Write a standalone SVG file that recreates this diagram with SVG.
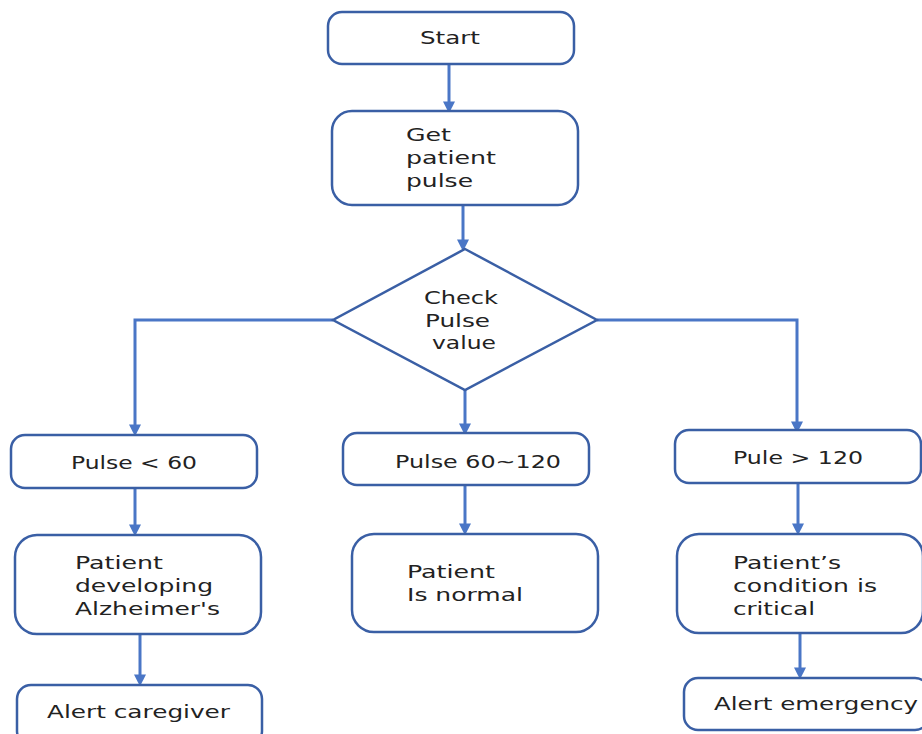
<svg xmlns="http://www.w3.org/2000/svg" width="922" height="734" viewBox="0 0 922 734">
<style>
.box{fill:#fff;stroke:#3a5fa5;stroke-width:2.5}
.t{font-family:"DejaVu Sans",Verdana,sans-serif;font-size:17px;fill:#222}
.c{fill:none;stroke:#4a76c6;stroke-width:3}
</style>
<defs>
<marker id="ah" markerWidth="4" markerHeight="4" refX="2.2" refY="2" orient="auto" markerUnits="strokeWidth">
<path d="M0,0 L4,2 L0,4 z" fill="#4a76c6"/>
</marker>
</defs>
<rect width="922" height="734" fill="#fff"/>
<g id="connectors">
<path class="c" d="M449,64 V108" marker-end="url(#ah)"/>
<path class="c" d="M463,205 V246" marker-end="url(#ah)"/>
<path class="c" d="M333,320 H135 V431" marker-end="url(#ah)"/>
<path class="c" d="M597,320 H797 V428" marker-end="url(#ah)"/>
<path class="c" d="M465,390 V430" marker-end="url(#ah)"/>
<path class="c" d="M135,488 V531" marker-end="url(#ah)"/>
<path class="c" d="M140,634 V681" marker-end="url(#ah)"/>
<path class="c" d="M465,485 V530" marker-end="url(#ah)"/>
<path class="c" d="M798,483 V530" marker-end="url(#ah)"/>
<path class="c" d="M800,633 V674" marker-end="url(#ah)"/>
</g>
<g id="start"><rect class="box" x="328" y="12" width="246" height="52" rx="14"/>
<text class="t" x="420" y="44" textLength="60" lengthAdjust="spacingAndGlyphs">Start</text></g>
<g id="get"><rect class="box" x="332" y="111" width="246" height="94" rx="20"/>
<text class="t" x="406" y="141" textLength="45" lengthAdjust="spacingAndGlyphs">Get</text>
<text class="t" x="406" y="164" textLength="90" lengthAdjust="spacingAndGlyphs">patient</text>
<text class="t" x="406" y="187" textLength="67" lengthAdjust="spacingAndGlyphs">pulse</text></g>
<g id="check"><path class="box" d="M465,249 L597,320 L465,390 L333,320 Z"/>
<text class="t" x="424" y="304" textLength="74" lengthAdjust="spacingAndGlyphs">Check</text>
<text class="t" x="425" y="327" textLength="65" lengthAdjust="spacingAndGlyphs">Pulse</text>
<text class="t" x="432" y="349" textLength="64" lengthAdjust="spacingAndGlyphs">value</text></g>
<g id="low"><rect class="box" x="11" y="435" width="246" height="53" rx="14"/>
<text class="t" x="71" y="469" textLength="126" lengthAdjust="spacingAndGlyphs">Pulse &lt; 60</text></g>
<g id="alz"><rect class="box" x="15" y="535" width="246" height="99" rx="22"/>
<text class="t" x="75" y="569" textLength="88" lengthAdjust="spacingAndGlyphs">Patient</text>
<text class="t" x="75" y="592" textLength="138" lengthAdjust="spacingAndGlyphs">developing</text>
<text class="t" x="75" y="615" textLength="145" lengthAdjust="spacingAndGlyphs">Alzheimer's</text></g>
<g id="caregiver"><rect class="box" x="17" y="685" width="245" height="60" rx="14"/>
<text class="t" x="47" y="718" textLength="183" lengthAdjust="spacingAndGlyphs">Alert caregiver</text></g>
<g id="mid"><rect class="box" x="343" y="433" width="246" height="52" rx="14"/>
<text class="t" x="395" y="468" textLength="166" lengthAdjust="spacingAndGlyphs">Pulse 60~120</text></g>
<g id="normal"><rect class="box" x="352" y="534" width="246" height="98" rx="22"/>
<text class="t" x="407" y="578" textLength="88" lengthAdjust="spacingAndGlyphs">Patient</text>
<text class="t" x="407" y="601" textLength="116" lengthAdjust="spacingAndGlyphs">Is normal</text></g>
<g id="high"><rect class="box" x="675" y="430" width="246" height="53" rx="14"/>
<text class="t" x="733" y="464" textLength="130" lengthAdjust="spacingAndGlyphs">Pule &gt; 120</text></g>
<g id="critical"><rect class="box" x="677" y="534" width="246" height="99" rx="22"/>
<text class="t" x="733" y="569" textLength="108" lengthAdjust="spacingAndGlyphs">Patient’s</text>
<text class="t" x="733" y="592" textLength="144" lengthAdjust="spacingAndGlyphs">condition is</text>
<text class="t" x="733" y="615" textLength="82" lengthAdjust="spacingAndGlyphs">critical</text></g>
<g id="emergency"><rect class="box" x="684" y="678" width="245" height="52" rx="14"/>
<text class="t" x="714" y="710" textLength="204" lengthAdjust="spacingAndGlyphs">Alert emergency</text></g>
</svg>
